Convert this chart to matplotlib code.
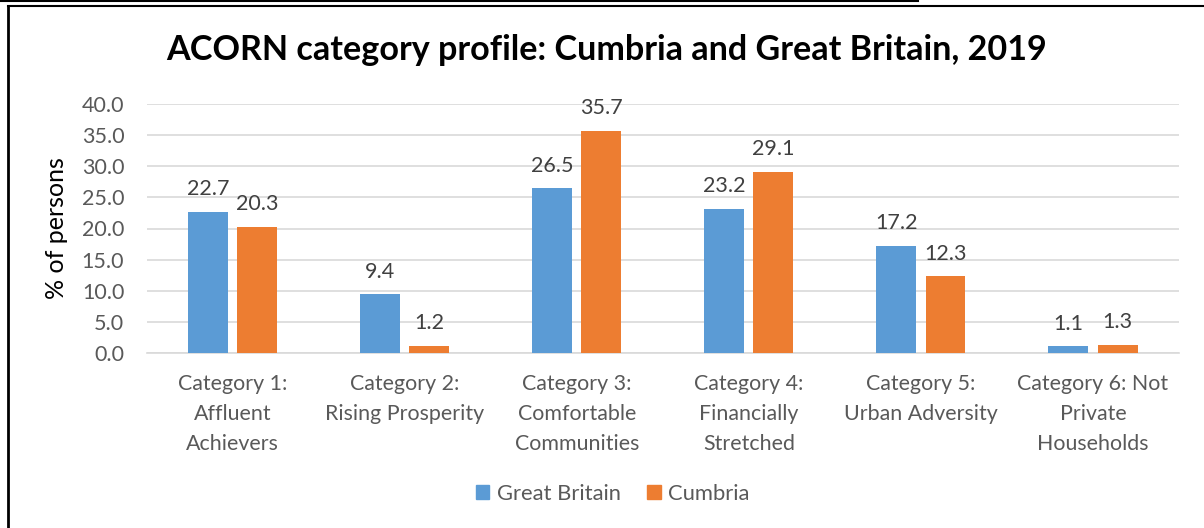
import matplotlib
matplotlib.use("Agg")
import matplotlib.pyplot as plt
from matplotlib.lines import Line2D
from matplotlib.patches import Rectangle
import numpy as np

categories = ["Category 1:\nAffluent\nAchievers", "Category 2:\nRising Prosperity",
              "Category 3:\nComfortable\nCommunities", "Category 4:\nFinancially\nStretched",
              "Category 5:\nUrban Adversity", "Category 6: Not\nPrivate\nHouseholds"]
great_britain = [22.7, 9.4, 26.5, 23.2, 17.2, 1.1]
cumbria = [20.3, 1.2, 35.7, 29.1, 12.3, 1.3]
yticks = [0, 5, 10, 15, 20, 25, 30, 35, 40]

plt.rcParams['font.family'] = ['Lato', 'DejaVu Sans']
W, H = 1204, 528
fig = plt.figure(figsize=(W / 100, H / 100), dpi=100)
ax = fig.add_axes([146.5 / W, (H - 353) / H, (1179 - 146.5) / W, (353 - 104) / H])

gray = "#595959"
blue = "#5B9BD5"
orange = "#ED7D31"
x = np.arange(len(categories))
bw = 0.232
off = 0.143
b1 = ax.bar(x - off, great_britain, bw, color=blue, label="Great Britain", zorder=3)
b2 = ax.bar(x + off, cumbria, bw, color=orange, label="Cumbria", zorder=3)
for bars, vals in ((b1, great_britain), (b2, cumbria)):
    for r, v in zip(bars, vals):
        ax.annotate(f"{v:.1f}", (r.get_x() + r.get_width() / 2, v), xytext=(0, 9),
                    textcoords="offset points", ha="center", va="bottom",
                    fontsize=15.5, color="#404040")

ax.set_xlim(-0.5, len(categories) - 0.5)
ax.set_ylim(0, 40)
ax.set_yticks(yticks)
ax.set_yticklabels([f"{t:.1f}" for t in yticks])
ax.set_xticks(x)
ax.set_xticklabels(categories, fontsize=15.4, color=gray, linespacing=1.62, va="top")
ax.tick_params(axis="y", length=0, pad=16, labelsize=15.5, labelcolor=gray)
ax.tick_params(axis="x", length=0, pad=15)
ax.grid(axis="y", color="#d9d9d9", linewidth=1.2, zorder=0)
for s in ["top", "right", "left"]:
    ax.spines[s].set_visible(False)
ax.spines["bottom"].set_color("#d9d9d9")
ax.spines["bottom"].set_linewidth(1.2)
ax.set_ylabel("% of persons", fontsize=18, color="black")
ax.yaxis.set_label_coords(-78 / (1179 - 146.5), 0.5)

fig.text(607 / W, 1 - 50 / H, "ACORN category profile: Cumbria and Great Britain, 2019",
         ha="center", va="center", fontsize=24.6, fontweight="bold", color="black")

handles = [Rectangle((0, 0), 1, 1, color=blue), Rectangle((0, 0), 1, 1, color=orange)]
fig.legend(handles, ["Great Britain", "Cumbria"], loc="center", bbox_to_anchor=(613 / W, 1 - 494 / H),
           ncol=2, frameon=False, fontsize=15.8, handlelength=0.6, handleheight=0.6,
           handletextpad=0.35, columnspacing=1.2, labelcolor=gray)

# border lines
fig.add_artist(Line2D([7.5 / W, 7.5 / W], [0, 1 - 6 / H], color="black", linewidth=2, transform=fig.transFigure))
fig.add_artist(Line2D([7.5 / W, 1], [1 - 6 / H, 1 - 6 / H], color="black", linewidth=1.5, transform=fig.transFigure))
fig.add_artist(Line2D([0, 918 / W], [1 - 1 / H, 1 - 1 / H], color="black", linewidth=1.5, transform=fig.transFigure))

fig.savefig("out.png", dpi=100)
